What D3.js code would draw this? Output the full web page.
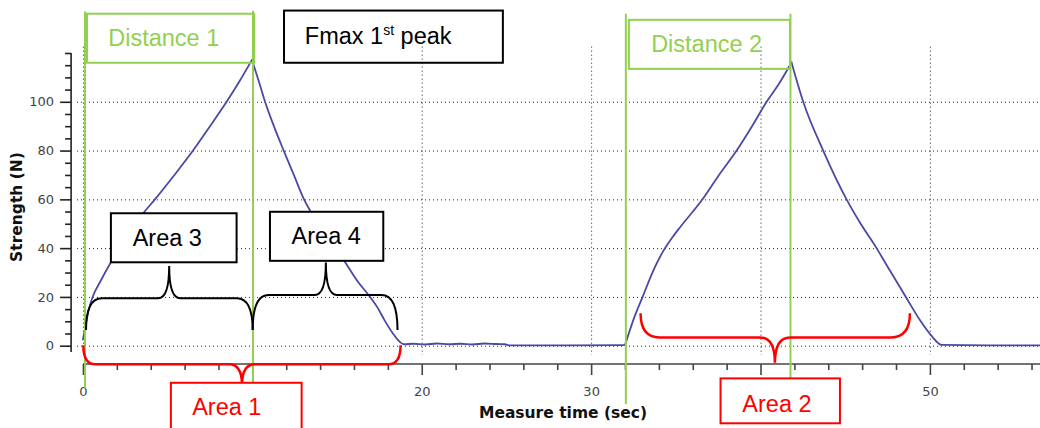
<!DOCTYPE html>
<html><head><meta charset="utf-8">
<script src="https://cdn.jsdelivr.net/npm/d3@7"></script>
<style>body{margin:0;background:#fff}svg{display:block}</style>
</head><body><svg id="c" width="1040" height="428"></svg>
<script>
// ---- data ----
const timeSec = [0, 0.15, 0.35, 0.6, 1.0, 1.65, 2.5, 3.56, 4.25, 5.4, 6.5, 7.5, 8.48, 9.25, 9.98,
  10.4, 10.75, 11.3, 11.85, 12.45, 13.05, 13.4, 14.4, 15.45, 16.2, 16.95, 17.4, 17.8, 18.3, 18.7,
  18.95, 19.5, 20.2, 20.9, 21.6, 22.3, 23.0, 23.7, 24.4, 24.9, 25.2, 28.5, 32.0,
  32.49, 33.04, 33.67, 34.3, 34.8, 35.3, 36.52, 37.5, 38.59, 39.5, 40.36, 41.1, 41.83,
  42.52, 43.7, 45.08, 45.87, 46.85, 47.64, 48.58, 49.4, 50.1, 50.69, 53.5, 56.5];
const strengthN = [2.5, 8, 15, 20.5, 26, 34.2, 43.5, 54.3, 60, 70, 80, 90, 100, 108.5, 117.2,
  108, 100, 89.5, 80, 70, 60, 55.5, 45, 34.5, 26.5, 20, 15.5, 10.5, 5, 1.6,
  0.6, 0.8, 0.5, 0.9, 0.6, 0.8, 0.5, 0.9, 0.7, 0.6, 0.1, 0.1, 0.2,
  10.5, 20, 30.8, 39.3, 44.5, 49, 59.5, 69.5, 80, 90, 100, 107.5, 116.1,
  100, 80, 60, 50.5, 40, 30.8, 20, 10.6, 4, 0.3, 0.1, 0.1];
// indices where the trace changes direction (sharp corners)
const cornerIdx = [14, 42, 55];

const xTickValues = [0, 10, 20, 30, 40, 50];
const xTickLabels = ["0", "", "20", "30", "", "50"]; // 10 and 40 are hidden behind the Area boxes
const yTickValues = [0, 20, 40, 60, 80, 100];
const yTickLabels = ["0", "20", "40", "60", "80", "100"];
const xTitle = "Measure time (sec)";
const yTitle = "Strength (N)";

// annotations in data units (sec, N)
const markerLines = [
  {t: 0.12, v0: 137, v1: -17.4},
  {t: 10.04, v0: 137.3, v1: -15.3},
  {t: 32.05, v0: 136.1, v1: -23.9},
  {t: 41.77, v0: 136.1, v1: -13.4}
];
const braceList = [
  {t0: 0.18, t1: 10.02, tc: 5.09, vTip: 6.4, vH: 19.5, vCusp: 32.7, rEnd: 0.94, rCusp: 0.65, color: "#000", w: 2},
  {t0: 10.02, t1: 18.57, tc: 14.34, vTip: 6.4, vH: 20.8, vCusp: 34.1, rEnd: 0.94, rCusp: 0.65, color: "#000", w: 2},
  {t0: 0.02, t1: 18.75, tc: 9.39, vTip: 0.2, vH: -7.6, vCusp: -16.1, rEnd: 0.71, rCusp: 0.77, color: "#ff0000", w: 2.5},
  {t0: 32.92, t1: 48.82, tc: 40.85, vTip: 13.3, vH: 3.4, vCusp: -7.0, rEnd: 1.12, rCusp: 0.89, color: "#ff0000", w: 2.5}
];
const boxList = [
  {label: "Distance 1", t0: 0.24, t1: 10.11, vTop: 136.1, vBot: 116.0, color: "#92d050", fill: "none", tt: 4.77, tv: 122.7},
  {label: "Fmax 1", sup: "st", rest: " peak", t0: 11.87, t1: 24.79, vTop: 137.4, vBot: 116.0, color: "#000", textColor: "#000", fill: "none", tt: 13.1, tv: 123.7, start: true},
  {label: "Distance 2", t0: 32.23, t1: 41.74, vTop: 133.6, vBot: 113.5, color: "#92d050", fill: "none", tt: 36.82, tv: 120.6},
  {label: "Area 3", t0: 1.65, t1: 9.07, vTop: 54.3, vBot: 34.2, color: "#000", fill: "#fff", tt: 4.98, tv: 40.9},
  {label: "Area 4", t0: 11.04, t1: 17.73, vTop: 54.9, vBot: 34.8, color: "#000", fill: "#fff", tt: 14.36, tv: 41.6},
  {label: "Area 1", t0: 5.19, t1: 12.91, vTop: -15.2, vBot: -34.6, color: "#ff0000", fill: "#fff", tt: 8.49, tv: -28.4},
  {label: "Area 2", t0: 37.64, t1: 44.69, vTop: -13.4, vBot: -31.8, color: "#ff0000", fill: "#fff", tt: 40.97, tv: -27.1}
];

// ---- scales ----
const x = d3.scaleLinear().domain([-0.7, 56.5]).range([71.1, 1040]);
const y = d3.scaleLinear().domain([-7.5, 120]).range([364, 53]);
const svg = d3.select("#c");
const tickFont = "DejaVu Sans, sans-serif";

// grid
const grid = svg.append("g").attr("stroke", "#222").attr("stroke-width", 1).attr("stroke-dasharray", "1,3");
grid.selectAll("line.h").data(yTickValues).join("line").attr("class", "h")
  .attr("x1", x(-0.35)).attr("x2", 1040).attr("y1", d => y(d) + 0.5).attr("y2", d => y(d) + 0.5);
grid.selectAll("line.v").data(xTickValues).join("line").attr("class", "v")
  .attr("x1", d => x(d) + 0.5).attr("x2", d => x(d) + 0.5).attr("y1", y(122.6)).attr("y2", y(-3.8));

// y axis
const yAxisG = svg.append("g").attr("transform", `translate(${x(-0.7)},0)`);
yAxisG.call(d3.axisLeft(y).tickValues(yTickValues).tickSize(11).tickPadding(6)
  .tickFormat((d, i) => yTickLabels[i]));
yAxisG.select(".domain").remove();
yAxisG.append("g").call(d3.axisLeft(y).tickValues(d3.range(5, 121, 5).filter(v => v % 20 !== 0 || v > 100))
  .tickSize(6).tickFormat("")).select(".domain").remove();
yAxisG.append("line").attr("x1", 0).attr("x2", 0).attr("y1", y(120)).attr("y2", y(-2.6));
yAxisG.selectAll("line").attr("stroke", "#222").attr("stroke-width", 1.6);
yAxisG.selectAll("text").attr("font-family", tickFont).attr("font-size", 13).attr("fill", "#444");

// x axis
const xAxisG = svg.append("g").attr("transform", `translate(0,${y(-7.5)})`);
xAxisG.call(d3.axisBottom(x).tickValues(xTickValues).tickSize(11).tickPadding(12)
  .tickFormat((d, i) => xTickLabels[i]));
xAxisG.select(".domain").remove();
xAxisG.append("g").call(d3.axisBottom(x).tickValues(d3.range(2, 57, 2).filter(v => v % 10 !== 0))
  .tickSize(6).tickFormat("")).select(".domain").remove();
xAxisG.append("line").attr("x1", x(0)).attr("x2", 1040).attr("y1", 0).attr("y2", 0);
xAxisG.selectAll("line").attr("stroke", "#444").attr("stroke-width", 1.6);
xAxisG.selectAll("text").attr("font-family", tickFont).attr("font-size", 13).attr("fill", "#444");

// titles
svg.append("text").attr("x", 563).attr("y", 418).attr("text-anchor", "middle")
  .attr("font-family", tickFont).attr("font-weight", "bold").attr("font-size", 15.5).attr("fill", "#111").text(xTitle);
svg.append("text").attr("transform", "translate(17,207) rotate(-90)").attr("text-anchor", "middle")
  .attr("dominant-baseline", "central")
  .attr("font-family", tickFont).attr("font-weight", "bold").attr("font-size", 15.5).attr("fill", "#111").text(yTitle);

// curve: monotone pieces between corner points, so peaks stay sharp
const pts = timeSec.map((t, i) => [t, strengthN[i]]);
const bounds = [0, ...cornerIdx, pts.length - 1];
const pieces = d3.range(bounds.length - 1).map(i => pts.slice(bounds[i], bounds[i + 1] + 1));
const lineGen = d3.line().x(d => x(d[0])).y(d => y(d[1])).curve(d3.curveMonotoneX);
svg.selectAll("path.trace").data(pieces).join("path").attr("class", "trace")
  .attr("d", lineGen)
  .attr("fill", "none").attr("stroke", "#4a4aa6").attr("stroke-width", 1.8)
  .attr("stroke-linejoin", "round").attr("stroke-linecap", "round");

// green marker lines
svg.selectAll("line.mk").data(markerLines).join("line").attr("class", "mk")
  .attr("x1", d => x(d.t)).attr("x2", d => x(d.t)).attr("y1", d => y(d.v0)).attr("y2", d => y(d.v1))
  .attr("stroke", "#92d050").attr("stroke-width", 2);

// braces
function bracePath(b) {
  const x0 = x(b.t0), x1 = x(b.t1), xc = x(b.tc);
  const yT = y(b.vTip), yH = y(b.vH), yC = y(b.vCusp);
  const r = x(b.t0 + b.rEnd) - x0, rc = x(b.tc + b.rCusp) - xc;
  return `M${x0},${yT} Q${x0},${yH} ${x0 + r},${yH} L${xc - rc},${yH} Q${xc},${yH} ${xc},${yC}` +
    ` Q${xc},${yH} ${xc + rc},${yH} L${x1 - r},${yH} Q${x1},${yH} ${x1},${yT}`;
}
svg.selectAll("path.brace").data(braceList).join("path").attr("class", "brace")
  .attr("d", bracePath).attr("fill", "none").attr("stroke", d => d.color).attr("stroke-width", d => d.w);

// boxes
const bg = svg.selectAll("g.box").data(boxList).join("g").attr("class", "box");
bg.append("rect")
  .attr("x", d => x(d.t0)).attr("y", d => y(d.vTop))
  .attr("width", d => x(d.t1) - x(d.t0)).attr("height", d => y(d.vBot) - y(d.vTop))
  .attr("fill", d => d.fill).attr("stroke", d => d.color).attr("stroke-width", 2);
const tx = bg.append("text")
  .attr("x", d => x(d.tt)).attr("y", d => y(d.tv))
  .attr("text-anchor", d => d.start ? "start" : "middle")
  .attr("font-family", "Liberation Sans, Arial, sans-serif").attr("font-size", 23.5)
  .attr("fill", d => d.textColor || d.color);
tx.append("tspan").text(d => d.label);
tx.filter(d => d.sup).append("tspan").attr("font-size", 14).attr("dy", -9).text(d => d.sup);
tx.filter(d => d.rest).append("tspan").attr("dy", 9).text(d => d.rest);
</script></body></html>
